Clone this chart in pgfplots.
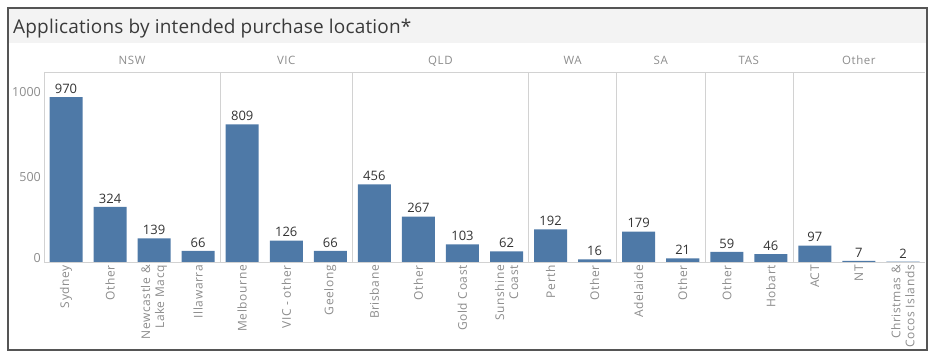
\documentclass[border=0pt]{standalone}
\usepackage{pgfplots}
\pgfplotsset{compat=1.18}
\usepackage{fontspec}
\setmainfont{Open Sans}
\definecolor{barblue}{HTML}{4E79A7}
\definecolor{axisgray}{HTML}{D2D2D2}
\definecolor{ticklab}{HTML}{8C8C8C}
\definecolor{valtxt}{HTML}{333333}
\definecolor{titlebg}{HTML}{F3F3F3}
\definecolor{framecol}{HTML}{555555}
\definecolor{titletxt}{HTML}{3A3A3A}
\begin{document}
\begin{tikzpicture}
\path (0pt,0pt) rectangle (935pt,356pt);
\fill[titlebg] (8pt,313pt) rectangle (927pt,348pt);
\draw[framecol, line width=1.2pt] (8pt,6pt) rectangle (927pt,348pt);
\node[anchor=base west, inner sep=0pt, text=titletxt, font=\fontsize{19}{21}\selectfont\addfontfeature{LetterSpace=1}] at (13pt,322pt) {Applications by intended purchase location*};
\begin{axis}[
  at={(44pt,94pt)}, anchor=south west,
  scale only axis, width=881pt, height=190pt,
  xmin=-0.5, xmax=19.5, ymin=0, ymax=1117,
  clip=false,
  axis line style={draw=none},
  major tick length=0pt,
  ybar, bar width=0.75,
  /pgf/number format/.cd, 1000 sep={}, assume math mode=true, /pgfplots/.cd,
  ytick={0,500,1000},
  yticklabels={\raisebox{8pt}{0},500,1000},
  yticklabel style={text=ticklab, font=\fontsize{12.5}{12.5}\selectfont, inner sep=3pt},
  xtick={0,...,19},
  xticklabels={Sydney, Other, {Newcastle \&\\Lake Macq}, Illawarra, Melbourne, VIC - other, Geelong, Brisbane, Other, Gold Coast, {Sunshine\\Coast}, Perth, Other, Adelaide, Other, Other, Hobart, ACT, NT, {Christmas \&\\Cocos Islands}},
  xticklabel style={rotate=90, anchor=east, align=right, text=ticklab, font=\fontsize{12}{14}\selectfont\addfontfeature{LetterSpace=5}, inner sep=3pt},
  nodes near coords,
  nodes near coords style={text=valtxt, font=\fontsize{13}{13}\selectfont},
]
\addplot[fill=barblue, draw=none] coordinates {
 (0,970) (1,324) (2,139) (3,66) (4,809) (5,126) (6,66) (7,456) (8,267) (9,103)
 (10,62) (11,192) (12,16) (13,179) (14,21) (15,59) (16,46) (17,97) (18,7) (19,2)};
\draw[axisgray] (axis cs:-0.5,1117) -- (axis cs:-0.5,0) -- (axis cs:19.5,0);
\draw[axisgray] (axis cs:-0.5,1117) -- (axis cs:19.5,1117);
\pgfplotsinvokeforeach{3.5,6.5,10.5,12.5,14.5,16.5}{\draw[axisgray] (axis cs:#1,0) -- (axis cs:#1,1117);}
\node[anchor=base, text=ticklab, font=\fontsize{11.5}{12}\selectfont\addfontfeature{LetterSpace=5}] at ([yshift=7pt]axis cs:1.5,1117) {NSW};
\node[anchor=base, text=ticklab, font=\fontsize{11.5}{12}\selectfont\addfontfeature{LetterSpace=5}] at ([yshift=7pt]axis cs:5,1117) {VIC};
\node[anchor=base, text=ticklab, font=\fontsize{11.5}{12}\selectfont\addfontfeature{LetterSpace=5}] at ([yshift=7pt]axis cs:8.5,1117) {QLD};
\node[anchor=base, text=ticklab, font=\fontsize{11.5}{12}\selectfont\addfontfeature{LetterSpace=5}] at ([yshift=7pt]axis cs:11.5,1117) {WA};
\node[anchor=base, text=ticklab, font=\fontsize{11.5}{12}\selectfont\addfontfeature{LetterSpace=5}] at ([yshift=7pt]axis cs:13.5,1117) {SA};
\node[anchor=base, text=ticklab, font=\fontsize{11.5}{12}\selectfont\addfontfeature{LetterSpace=5}] at ([yshift=7pt]axis cs:15.5,1117) {TAS};
\node[anchor=base, text=ticklab, font=\fontsize{11.5}{12}\selectfont\addfontfeature{LetterSpace=5}] at ([yshift=7pt]axis cs:18,1117) {Other};
\end{axis}
\end{tikzpicture}
\end{document}
